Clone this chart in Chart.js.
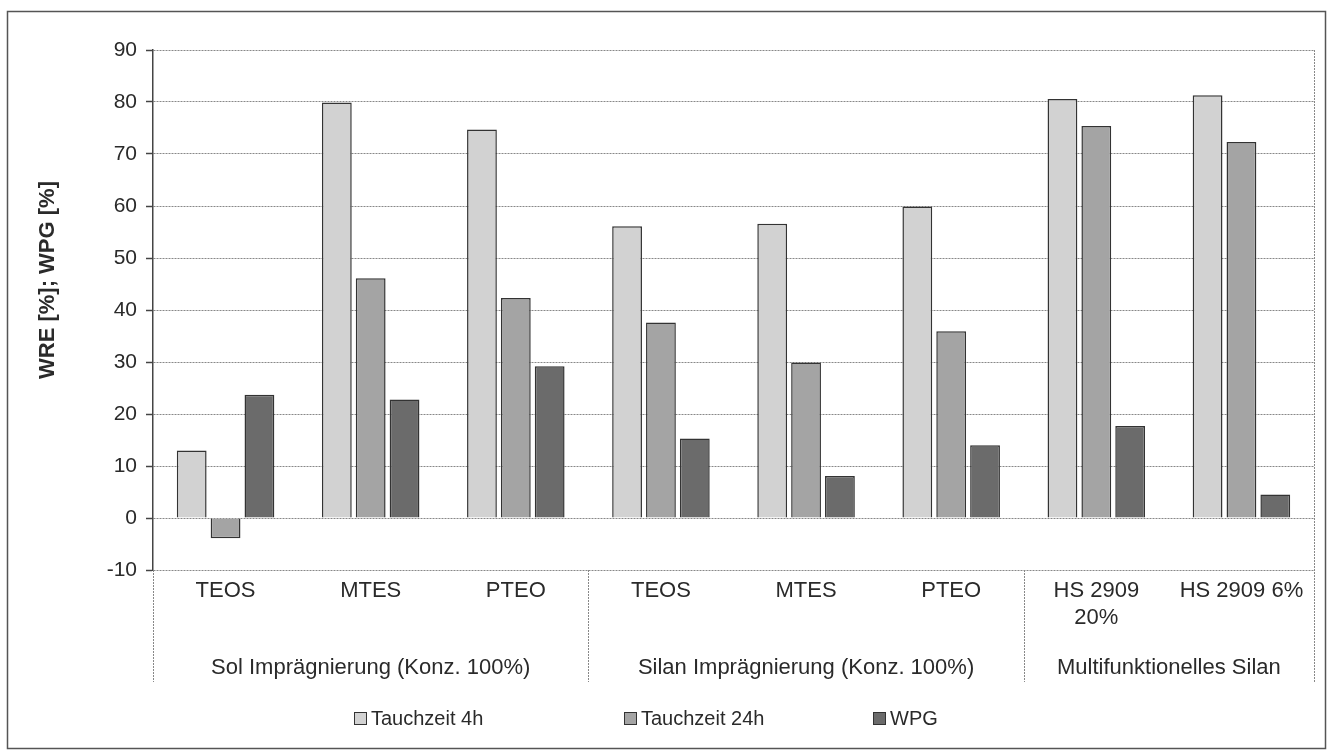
<!DOCTYPE html>
<html>
<head>
<meta charset="utf-8">
<script src="https://cdn.jsdelivr.net/npm/chart.js@4.4.1/dist/chart.umd.min.js"></script>
<style>
  html, body { margin: 0; padding: 0; background: #fff; }
  #wrap { width: 1333px; height: 753px; }
</style>
</head>
<body>
<div id="wrap"><canvas id="chart"></canvas></div>
<script>
// Kategorien (untere Achse)
const kategorien = ['TEOS', 'MTES', 'PTEO', 'TEOS', 'MTES', 'PTEO', ['HS 2909', '20%'], 'HS 2909 6%'];

// Gruppen (zweite Zeile der Achse)
const gruppen = ['Sol Imprägnierung (Konz. 100%)', 'Silan Imprägnierung (Konz. 100%)', 'Multifunktionelles Silan'];
const gruppenGroesse = [3, 3, 2];

// Werte
const tauchzeit4h = [13.0, 79.9, 74.7, 56.1, 56.6, 59.9, 80.6, 81.3];
const tauchzeit24h = [-3.9, 46.1, 42.3, 37.6, 29.9, 35.9, 75.4, 72.3];
const wpg = [23.7, 22.8, 29.2, 15.3, 8.1, 14.0, 17.7, 4.5];

const achsenTitel = 'WRE [%]; WPG [%]';

const FONT = '"Liberation Sans", Arial, sans-serif';

// Legende: Position der Kästchen (x)
const legendeX = [354, 624, 873];

// Rahmen, Achsentitel, Gruppenbeschriftung, Trennlinien und Legende
const rahmenPlugin = {
    id: 'rahmen',
    beforeDraw(chart) {
        const ctx = chart.ctx;
        ctx.save();
        ctx.strokeStyle = '#555';
        ctx.lineWidth = 1.5;
        ctx.strokeRect(7.5, 11.5, 1318, 737);
        ctx.restore();
    },
    afterDraw(chart) {
        const ctx = chart.ctx;
        const area = chart.chartArea;
        const x = chart.scales.x;
        const unten = 682;
        const grenzen = [area.left];
        let idx = 0;
        gruppenGroesse.forEach(n => {
            idx += n;
            if (idx < kategorien.length) {
                grenzen.push((x.getPixelForValue(idx - 1) + x.getPixelForValue(idx)) / 2);
            } else {
                grenzen.push(area.right);
            }
        });

        ctx.save();
        ctx.strokeStyle = '#888';
        ctx.lineWidth = 1;
        ctx.setLineDash([2, 1]);
        // rechter Rand der Zeichenfläche
        ctx.beginPath();
        ctx.moveTo(Math.round(area.right) + 0.5, area.top);
        ctx.lineTo(Math.round(area.right) + 0.5, unten);
        ctx.stroke();
        grenzen.slice(0, -1).forEach(g => {
            ctx.beginPath();
            ctx.moveTo(Math.round(g) + 0.5, area.bottom);
            ctx.lineTo(Math.round(g) + 0.5, unten);
            ctx.stroke();
        });
        ctx.setLineDash([]);

        ctx.fillStyle = '#2a2a2a';
        ctx.font = '22px ' + FONT;
        ctx.textAlign = 'center';
        ctx.textBaseline = 'middle';
        gruppen.forEach((g, i) => {
            ctx.fillText(g, (grenzen[i] + grenzen[i + 1]) / 2, 668);
        });

        // Achsentitel (etwas oberhalb der Mitte wie im Original)
        ctx.save();
        ctx.translate(48, 280);
        ctx.rotate(-Math.PI / 2);
        ctx.font = 'bold 22px ' + FONT;
        ctx.fillText(achsenTitel, 0, 0);
        ctx.restore();

        // Legende
        ctx.font = '20px ' + FONT;
        ctx.textAlign = 'left';
        chart.data.datasets.forEach((ds, i) => {
            const bx = legendeX[i];
            ctx.fillStyle = ds.backgroundColor;
            ctx.fillRect(bx, 712, 13, 13);
            ctx.strokeStyle = '#333';
            ctx.lineWidth = 1;
            ctx.strokeRect(bx + 0.5, 712.5, 12, 12);
            ctx.fillStyle = '#2a2a2a';
            ctx.fillText(ds.label, bx + 17, 719);
        });
        ctx.restore();
    }
};

new Chart(document.getElementById('chart'), {
    type: 'bar',
    data: {
        labels: kategorien,
        datasets: [
            {
                label: 'Tauchzeit 4h',
                data: tauchzeit4h,
                backgroundColor: '#d2d2d2',
                borderColor: '#333',
                borderWidth: 1.5,
            },
            {
                label: 'Tauchzeit 24h',
                data: tauchzeit24h,
                backgroundColor: '#a4a4a4',
                borderColor: '#333',
                borderWidth: 1.5,
            },
            {
                label: 'WPG',
                data: wpg,
                backgroundColor: '#6b6b6b',
                borderColor: '#333',
                borderWidth: 1.5,
            },
        ],
    },
    options: {
        responsive: true,
        maintainAspectRatio: false,
        animation: false,
        categoryPercentage: 0.7,
        barPercentage: 0.88,
        layout: {
            padding: { left: 25, right: 19, top: 50, bottom: 71 },
        },
        plugins: {
            tooltip: { enabled: false },
            legend: { display: false },
        },
        scales: {
            x: {
                grid: { display: false, drawTicks: false },
                border: { display: false },
                ticks: {
                    color: '#2a2a2a',
                    padding: 8,
                    maxRotation: 0,
                    autoSkip: false,
                    font: { family: FONT, size: 22 },
                },
                afterFit(scale) {
                    scale.height = 112;
                },
            },
            y: {
                min: -10,
                max: 90,
                ticks: {
                    stepSize: 10,
                    color: '#2a2a2a',
                    padding: 9,
                    font: { family: FONT, size: 21 },
                },
                grid: {
                    color: '#888',
                    lineWidth: 1,
                    tickLength: 7,
                    tickColor: '#444',
                    tickWidth: 1.5,
                },
                border: {
                    display: true,
                    color: '#444',
                    width: 1.5,
                    dash: [2, 1],
                },
                afterFit(scale) {
                    scale.width = 128;
                },
            },
        },
    },
    plugins: [rahmenPlugin],
});
</script>
</body>
</html>
